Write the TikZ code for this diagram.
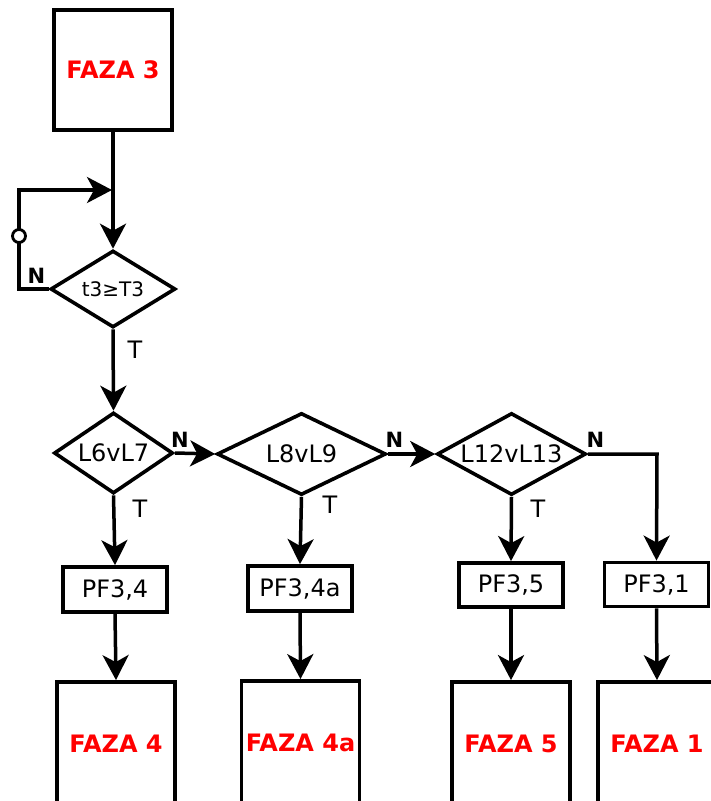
\documentclass[tikz,border=0pt]{standalone}
\usepackage{fontspec}
\setmainfont{DejaVu Sans}
\usetikzlibrary{shapes.geometric,arrows.meta}
\definecolor{fazared}{RGB}{255,0,0}
\begin{document}
\begin{tikzpicture}[x=1pt,y=-1pt,
  conn/.style={line width=3.5pt},
  arr/.style={conn,-{Stealth[length=25pt,width=26pt,inset=7pt]}},
  fazabox/.style={draw,line width=3.8pt,minimum width=118pt,inner sep=0pt,
    font=\fontsize{24}{28}\selectfont\bfseries,text=fazared},
  pfbox/.style={draw,line width=3.8pt,minimum width=104pt,minimum height=45pt,inner sep=0pt,
    font=\fontsize{24}{28}\selectfont},
  dec/.style={draw,diamond,line width=3.6pt,inner sep=0pt,font=\fontsize{24}{28}\selectfont},
  lblN/.style={font=\fontsize{21}{24}\selectfont\bfseries,inner sep=0pt},
  lblT/.style={font=\fontsize{24}{28}\selectfont,inner sep=0pt}]
\useasboundingbox (0,0) rectangle (711,801);
% boxes
\node[fazabox,minimum height=120pt] (B3) at (113,70) {FAZA 3};
\node[dec,minimum width=125pt,minimum height=77pt,font=\fontsize{20}{24}\selectfont] (D0) at (113,289) {\makebox[0pt]{t3≥T3}};
\node[dec,minimum width=119pt,minimum height=81pt] (D1) at (113.5,453) {\makebox[0pt]{L6vL7}};
\node[dec,minimum width=169pt,minimum height=82pt] (D2) at (301.5,454) {\makebox[0pt]{L8vL9}};
\node[dec,minimum width=149pt,minimum height=82pt] (D3) at (511.5,454) {\makebox[0pt]{L12vL13}};
\node[pfbox] (P1) at (115,589.5) {PF3,4};
\node[pfbox] (P2) at (300,588.5) {PF3,4a};
\node[pfbox,minimum height=44pt] (P3) at (511,585) {PF3,5};
\node[pfbox,minimum height=44pt] (P4) at (656.5,584.5) {PF3,1};
\node[fazabox,minimum height=124pt] (F4) at (116,744) {FAZA 4};
\node[fazabox,minimum height=124pt] (F4a) at (300.5,743) {FAZA 4a};
\node[fazabox,minimum height=124pt] (F5) at (511,744) {FAZA 5};
\node[fazabox,minimum height=124pt] (F1) at (657,744) {FAZA 1};
% loop coordinates
\coordinate (L1) at (19,289);
\coordinate (L2) at (19,190);
\coordinate (L3) at (112,190);
\coordinate (R1) at (657,454);
% connectors
\draw[arr] (B3.south) -- (D0.north);
\draw[arr] (D0.west) -- (L1) -- (L2) -- (L3);
\node[draw,circle,fill=white,line width=2.8pt,minimum size=13pt,inner sep=0pt] (C) at (19,236) {};
\draw[arr] (D0.south) -- (D1.north);
\draw[arr] (D1.east) -- (D2.west);
\draw[arr] (D2.east) -- (D3.west);
\draw[arr] (D3.east) -- (R1) -- (P4.north);
\draw[arr] (D1.south) -- (P1.north);
\draw[arr] (D2.south) -- (P2.north);
\draw[arr] (D3.south) -- (P3.north);
\draw[arr] (P1.south) -- (F4.north);
\draw[arr] (P2.south) -- (F4a.north);
\draw[arr] (P3.south) -- (F5.north);
\draw[arr] (P4.south) -- (F1.north);
% labels
\node[lblN] (n0) at (36.5,276) {N};
\node[lblT] (t0) at (135,350) {T};
\node[lblN] (n1) at (180,440) {N};
\node[lblN] (n2) at (394.5,440) {N};
\node[lblN] (n3) at (595.5,440) {N};
\node[lblT] (t1) at (140,509) {T};
\node[lblT] (t2) at (330,504.5) {T};
\node[lblT] (t3) at (538,509) {T};
\end{tikzpicture}
\end{document}
